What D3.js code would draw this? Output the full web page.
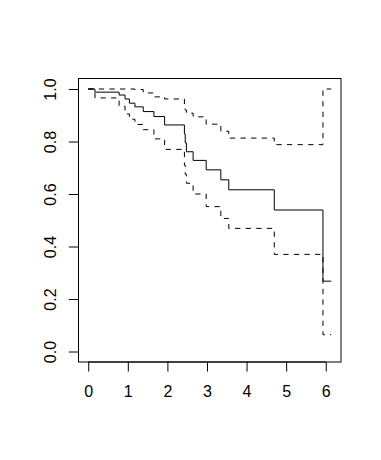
<!DOCTYPE html>
<html>
<head>
<meta charset="utf-8">
<script src="https://cdn.jsdelivr.net/npm/d3@7.9.0/dist/d3.min.js"></script>
<style>
  body { margin: 0; background: #fff; }
  svg { display: block; }
  text { font-family: "Liberation Sans", Arial, sans-serif; font-size: 16px; fill: #000; }
</style>
</head>
<body>
<svg id="plot" width="381" height="460"></svg>
<script>
// Kaplan-Meier estimate with confidence band
const times = [0, 0.17, 0.78, 0.93, 1.04, 1.18, 1.39, 1.66, 1.93, 2.43, 2.45, 2.48, 2.65, 2.98, 3.35, 3.55, 4.70, 5.93, 6.14];
const surv  = [1, 0.988, 0.977, 0.962, 0.946, 0.932, 0.914, 0.895, 0.863, 0.829, 0.795, 0.761, 0.728, 0.692, 0.654, 0.616, 0.539, 0.268, 0.268];
const upper = [1, 1, 1, 1, 1, 0.998, 0.985, 0.97, 0.962, 0.935, 0.92, 0.908, 0.894, 0.866, 0.839, 0.813, 0.788, 1, 1];
const lower = [1, 0.966, 0.935, 0.905, 0.885, 0.865, 0.845, 0.81, 0.77, 0.71, 0.675, 0.641, 0.60, 0.552, 0.507, 0.469, 0.37, 0.064, 0.064];

const xTicks = [0, 1, 2, 3, 4, 5, 6];
const yTicks = [0, 0.2, 0.4, 0.6, 0.8, 1.0];

const svg = d3.select("#plot");
const box = { left: 78.5, right: 341, top: 78.5, bottom: 362 };

// R style range: data extent plus 4% on each side
const xExt = d3.extent(times);
const xPad = (xExt[1] - xExt[0]) * 0.04;
const x = d3.scaleLinear().domain([xExt[0] - xPad, xExt[1] + xPad]).range([box.left, box.right]);
const y = d3.scaleLinear().domain([-0.04, 1.04]).range([box.bottom, box.top]);

const step = (vals) => d3.line()
    .x((d, i) => x(times[i]))
    .y((d) => y(d))
    .curve(d3.curveStepAfter)(vals);

const g = svg.append("g");

g.append("path").attr("d", step(upper))
    .attr("fill", "none").attr("stroke", "#000").attr("stroke-width", 1)
    .attr("stroke-dasharray", "5.3,5.3");
g.append("path").attr("d", step(lower))
    .attr("fill", "none").attr("stroke", "#000").attr("stroke-width", 1)
    .attr("stroke-dasharray", "5.3,5.3");
g.append("path").attr("d", step(surv))
    .attr("fill", "none").attr("stroke", "#000").attr("stroke-width", 1);

// box
svg.append("rect")
    .attr("x", box.left).attr("y", box.top)
    .attr("width", box.right - box.left).attr("height", box.bottom - box.top)
    .attr("fill", "none").attr("stroke", "#000").attr("stroke-width", 1);

// x axis
const xAxis = svg.append("g")
    .attr("transform", `translate(0,${box.bottom})`)
    .call(d3.axisBottom(x).tickValues(xTicks).tickFormat(d3.format("d")).tickSize(9.6).tickPadding(14));
xAxis.select(".domain").remove();
xAxis.append("line")
    .attr("x1", x(xTicks[0])).attr("x2", x(xTicks[xTicks.length - 1]))
    .attr("stroke", "#000");
xAxis.selectAll(".tick line").attr("stroke", "#000");
xAxis.selectAll("text").attr("font-size", null).attr("font-family", null);

// y axis, labels turned like R
const yAxis = svg.append("g")
    .attr("transform", `translate(${box.left},0)`)
    .call(d3.axisLeft(y).tickValues(yTicks).tickFormat(d3.format(".1f")).tickSize(9.6));
yAxis.select(".domain").remove();
yAxis.append("line")
    .attr("y1", y(yTicks[0])).attr("y2", y(yTicks[yTicks.length - 1]))
    .attr("stroke", "#000");
yAxis.selectAll(".tick line").attr("stroke", "#000");
yAxis.selectAll("text")
    .attr("font-size", null).attr("font-family", null)
    .attr("transform", "rotate(-90)")
    .attr("x", 0).attr("y", -23).attr("dy", 0)
    .attr("text-anchor", "middle");
</script>
</body>
</html>
